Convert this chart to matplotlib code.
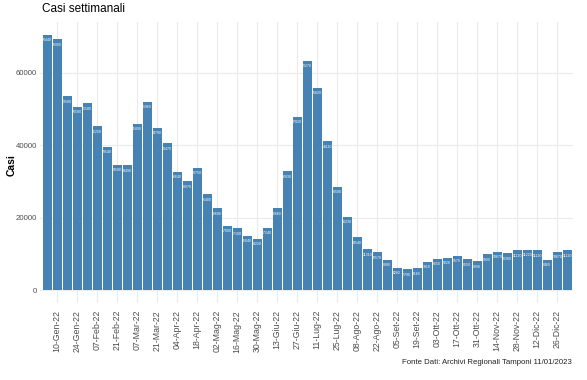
import datetime as dt
import matplotlib
matplotlib.use("Agg")
import matplotlib.pyplot as plt

plt.rcParams['font.family'] = ['Liberation Sans', 'DejaVu Sans']

# casi settimanali, settimane a partire dal 03-Gen-22
casi = [70440, 69300, 53580, 50580, 51500, 45250, 39540, 34580, 34490, 45890,
        51960, 44790, 40470, 32640, 30070, 33750, 26400, 22680, 17800, 17100,
        15040, 14220, 17240, 22660, 32830, 47820, 63270, 55820, 41110, 28500,
        20230, 14540, 11310, 10570, 8380, 6260, 5790, 6160, 7910, 8650,
        9020, 9570, 8550, 8090, 9930, 10670, 10300, 11120, 11220, 11120,
        8460, 10670, 11120]
inizio = dt.date(2022, 1, 3)
mesi = ['Gen', 'Feb', 'Mar', 'Apr', 'Mag', 'Giu', 'Lug', 'Ago', 'Set', 'Ott', 'Nov', 'Dic']

settimane = [inizio + dt.timedelta(weeks=i) for i in range(len(casi))]
x = list(range(len(casi)))
tick_pos = x[1::2]
tick_lab = [f"{settimane[i].day:02d}-{mesi[settimane[i].month-1]}-{settimane[i].strftime('%y')}" for i in tick_pos]

fig = plt.figure(figsize=(5.87, 3.80), dpi=100)
ax = fig.add_axes([40/587, 77/380, 533/587, 281/380])

ax.bar(x, casi, width=0.9, color='#4682B4', zorder=2)
# etichette dentro le barre
for xi, v in zip(x, casi):
    ax.text(xi, v - 1000, str(v), color='white', fontsize=2.5, ha='center', va='top', zorder=3)

ymax = max(casi)
ax.set_ylim(-0.05*ymax, 1.05*ymax)
ax.set_xlim(-0.72, 52.58)
ax.set_yticks([0, 20000, 40000, 60000])
ax.set_yticklabels(['0', '20000', '40000', '60000'])
ax.set_xticks(tick_pos)
ax.set_xticklabels(tick_lab, rotation=90)
ax.tick_params(axis='x', length=0, pad=5, labelsize=6.3, labelcolor='#4D4D4D')
ax.tick_params(axis='y', length=0, pad=2, labelsize=5.6, labelcolor='#4D4D4D')
ax.grid(True, color='#EBEBEB', lw=0.8, zorder=0)
for s in ax.spines.values():
    s.set_visible(False)

fig.text(42/587, 1 - 9/380, 'Casi settimanali', fontsize=8.5, va='center', ha='left')
fig.text(12/587, 1 - 165/380, 'Casi', fontsize=7.5, fontweight='bold', rotation=90,
         va='center', ha='center')
fig.text(572/587, 1 - 362/380, 'Fonte Dati: Archivi Regionali Tamponi 11/01/2023',
         fontsize=5.6, ha='right', va='center', color='#222222')

fig.savefig('out.png', dpi=100)
